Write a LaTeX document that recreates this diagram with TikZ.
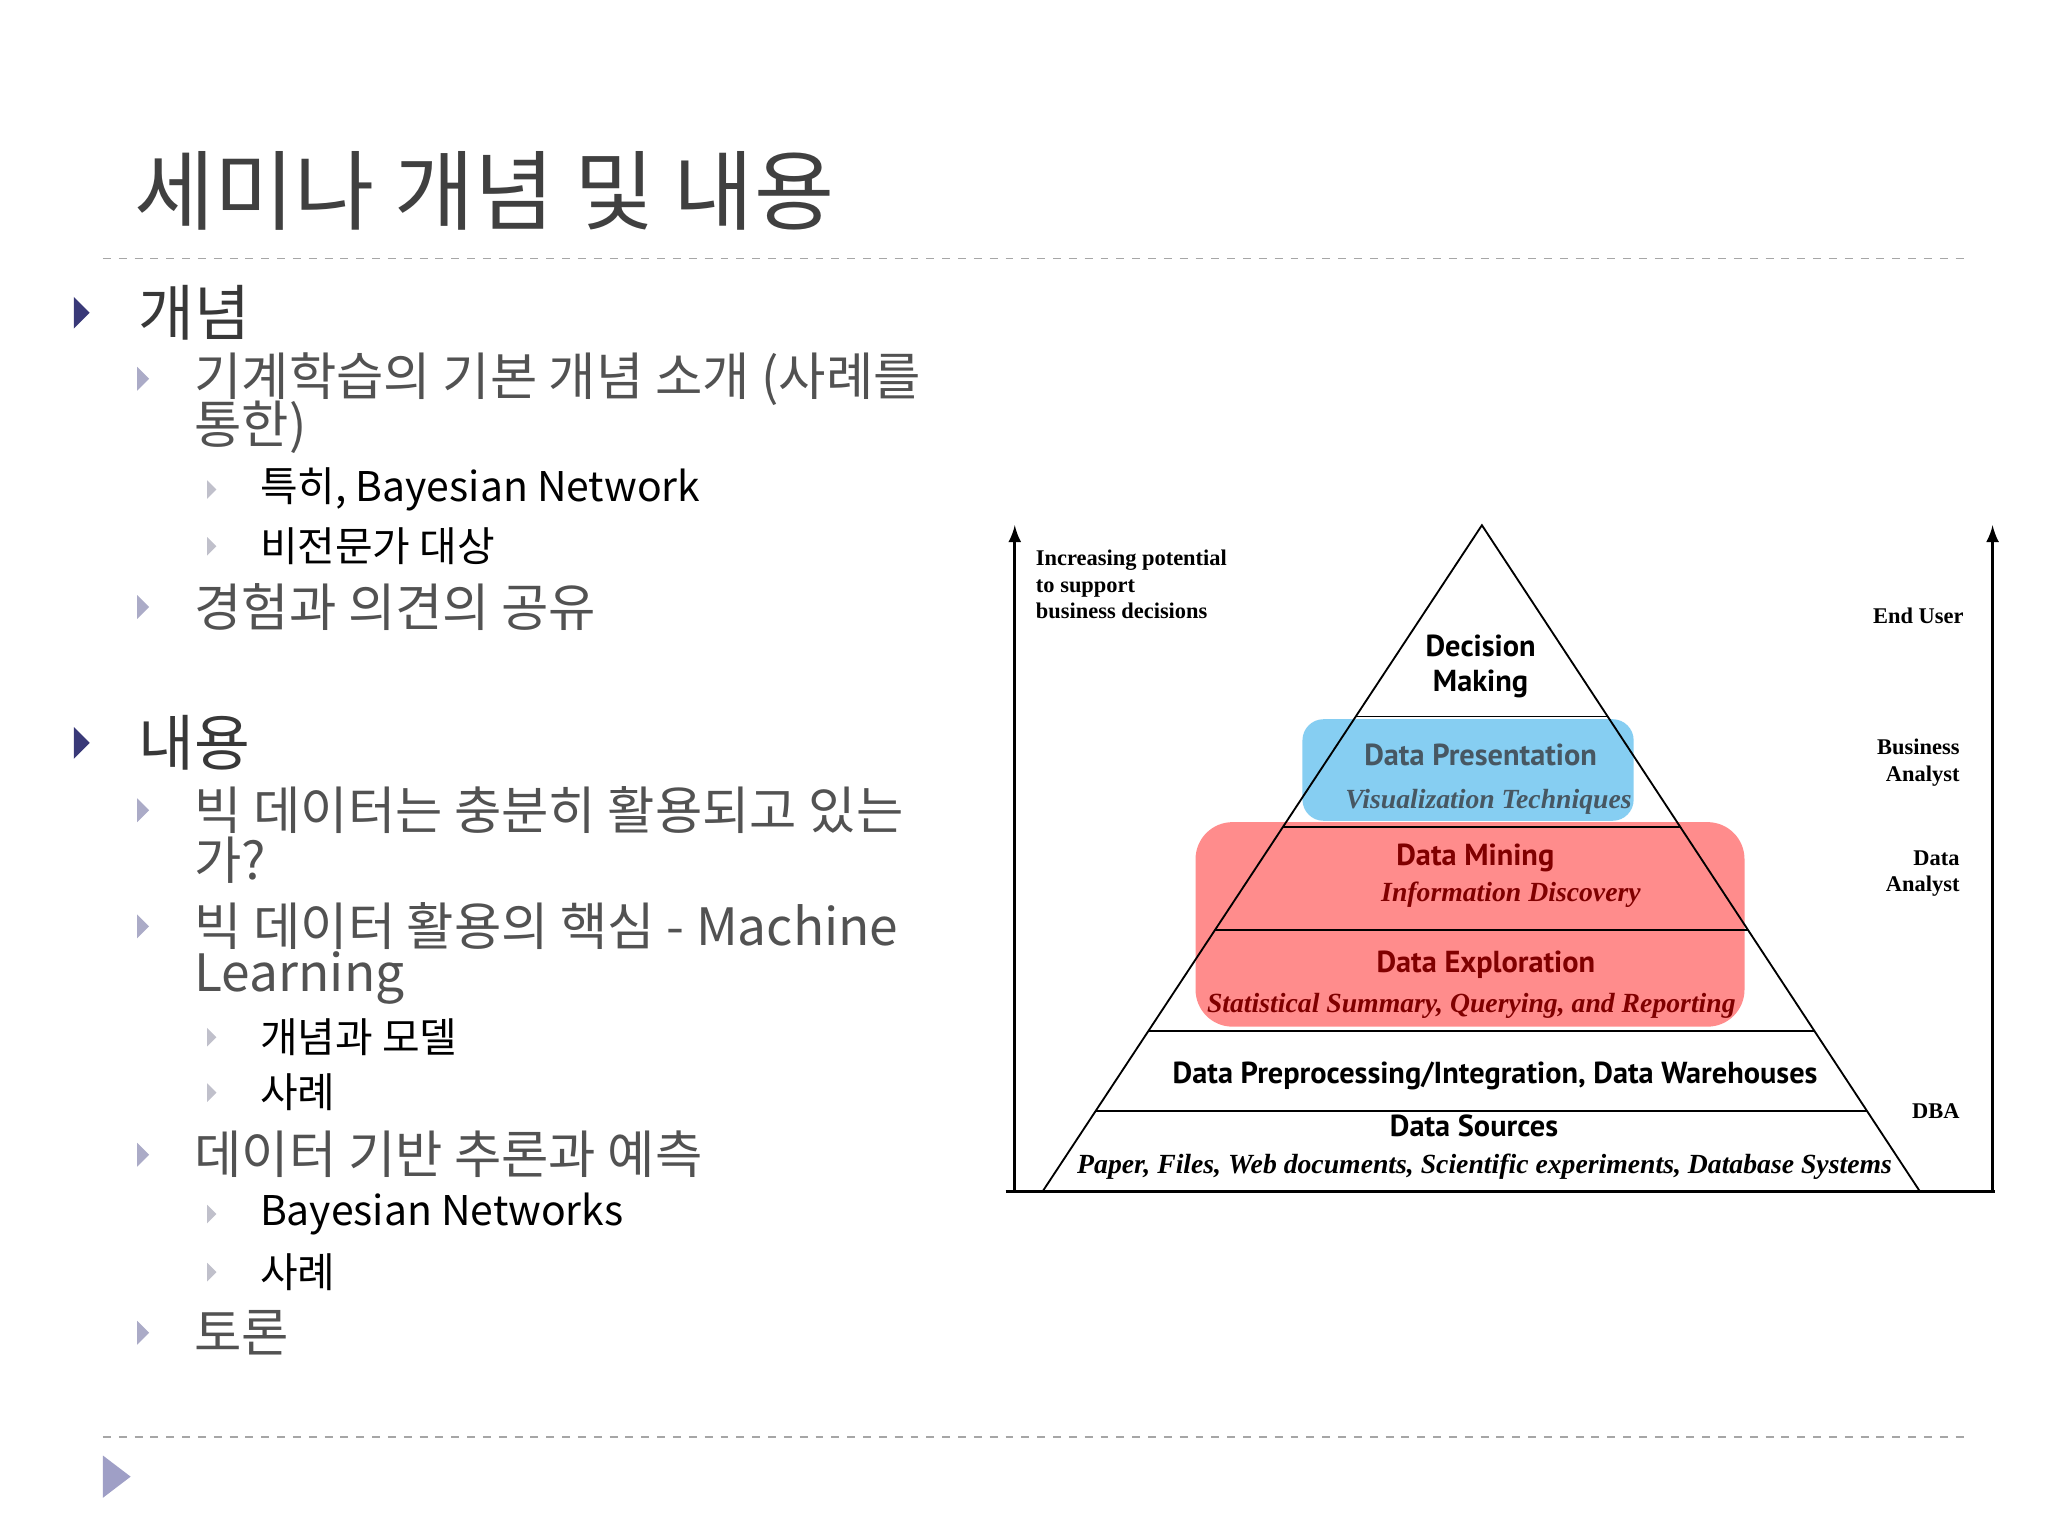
\documentclass[tikz,border=0pt]{standalone}
\usepackage{fontspec}
\setmainfont{Noto Sans CJK KR}
\newfontfamily\pyrsans{PT Sans}
\newfontfamily\pyrserif{Liberation Serif}
\begin{document}
\begin{tikzpicture}[x=0.5pt,y=-0.5pt,
  lone/.style={anchor=west,text=black!78,font=\fontsize{23}{23}\selectfont},
  ltwo/.style={anchor=west,text=black!68,font=\fontsize{19.5}{19.5}\selectfont,inner sep=1pt},
  lthree/.style={anchor=west,text=black,font=\fontsize{15.5}{15.5}\selectfont},
  pb/.style={font=\pyrsans\bfseries\fontsize{11.5}{11.5}\selectfont},
  pi/.style={font=\pyrserif\itshape\bfseries\fontsize{10.5}{10.5}\selectfont},
  side/.style={font=\pyrserif\bfseries\fontsize{8.5}{10}\selectfont,align=right,anchor=east},
  dline/.style={black!35,dashed,line width=0.6pt}]
\useasboundingbox (0,0) rectangle (1552,1164);
\fill[white] (0,0) rectangle (1552,1164);
% title
\node[anchor=west,text=black!75,font=\fontsize{33}{33}\selectfont] (title) at (95,145) {세미나 개념 및 내용};
\coordinate (d1a) at (78,196); \coordinate (d1b) at (1490,196);
\coordinate (d2a) at (78,1089); \coordinate (d2b) at (1490,1089);
\draw[dline] (d1a)--(d1b); \draw[dline] (d2a)--(d2b);
% bullets
\foreach \y in {237,563} \fill[black!55!blue!55!gray] (56,\y-12) -- (68,\y) -- (56,\y+12) -- cycle;
\foreach \y in {287,460,614,702,875,1010} \fill[blue!20!gray!55] (104,\y-9) -- (113,\y) -- (104,\y+9) -- cycle;
\foreach \y in {371,414,786,828,920,964} \fill[blue!10!gray!45] (157,\y-7) -- (164,\y) -- (157,\y+7) -- cycle;
\fill[blue!25!gray!60] (78,1103) -- (99,1119) -- (78,1135) -- cycle;
% texts
\node[lone] (a1) at (98,237) {개념};
\node[ltwo] (b1) at (145,287) {기계학습의 기본 개념 소개 (사례를};
\node[ltwo] (b1b) at (145,324) {통한)};
\node[lthree] (c1) at (190,371) {특히, Bayesian Network};
\node[lthree] (c2) at (190,414) {비전문가 대상};
\node[ltwo] (b2) at (145,460) {경험과 의견의 공유};
\node[lone] (a2) at (98,563) {내용};
\node[ltwo] (b3) at (145,614) {빅 데이터는 충분히 활용되고 있는};
\node[ltwo] (b3b) at (145,652) {가?};
\node[ltwo] (b4) at (145,702) {빅 데이터 활용의 핵심 - Machine};
\node[ltwo] (b4b) at (145,741) {Learning};
\node[lthree] (c3) at (190,786) {개념과 모델};
\node[lthree] (c4) at (190,828) {사례};
\node[ltwo] (b5) at (145,875) {데이터 기반 추론과 예측};
\node[lthree] (c5) at (190,920) {Bayesian Networks};
\node[lthree] (c6) at (190,964) {사례};
\node[ltwo] (b6) at (145,1010) {토론};
% pyramid boxes
\fill[cyan!45!white!95!blue,rounded corners=8pt] (987,545) rectangle (1238,622);
\fill[red!45!white,rounded corners=14pt] (906,623) rectangle (1322,778);
% pyramid
\coordinate (apex) at (1123,398);
\coordinate (bl) at (790,903);
\coordinate (br) at (1455,903);
\draw[line width=0.7pt] (bl)--(apex)--(br);
\foreach \yy in {543,627,705,781,842}
  \draw[line width=0.7pt] ({1123-(\yy-398)*0.6594},\yy) -- ({1123+(\yy-398)*0.6574},\yy);
\coordinate (b0) at (762,903); \coordinate (b9) at (1512,903);
\draw[line width=0.9pt] (b0)--(b9);
\coordinate (la) at (769,903); \coordinate (lb) at (769,398);
\coordinate (ra) at (1510,903); \coordinate (rb) at (1510,398);
\draw[line width=1.2pt,-latex] (la)--(lb);
\draw[line width=1.2pt,-latex] (ra)--(rb);
% pyramid text
\node[pb,align=center] (dm) at (1122,505) {Decision\\[2pt]Making};
\node[pb,text=cyan!30!black] (dp) at (1122,572) {Data Presentation};
\node[pi,text=cyan!30!black] (vt) at (1128,608) {Visualization Techniques};
\node[pb,text=red!50!black] (dmi) at (1118,650) {Data Mining};
\node[pi,text=red!50!black] (id) at (1145,678) {Information Discovery};
\node[pb,text=red!50!black] (de) at (1126,731) {Data Exploration};
\node[pi,text=red!50!black] (ss) at (1115,762) {Statistical Summary, Querying, and Reporting};
\node[pb] (pp) at (1133,815) {Data Preprocessing/Integration, Data Warehouses};
\node[pb] (ds) at (1117,853) {Data Sources};
\node[pi] (pf) at (1125,884) {Paper, Files, Web documents, Scientific experiments, Database Systems};
\node[side,align=left,anchor=north west] (inc) at (778,410) {Increasing potential\\to support\\business decisions};
\node[side] (eu) at (1495,467) {End User};
\node[side] (ba) at (1492,578) {Business\\Analyst};
\node[side] (da) at (1492,662) {Data\\Analyst};
\node[side] (dba) at (1492,842) {DBA};
\end{tikzpicture}
\end{document}
